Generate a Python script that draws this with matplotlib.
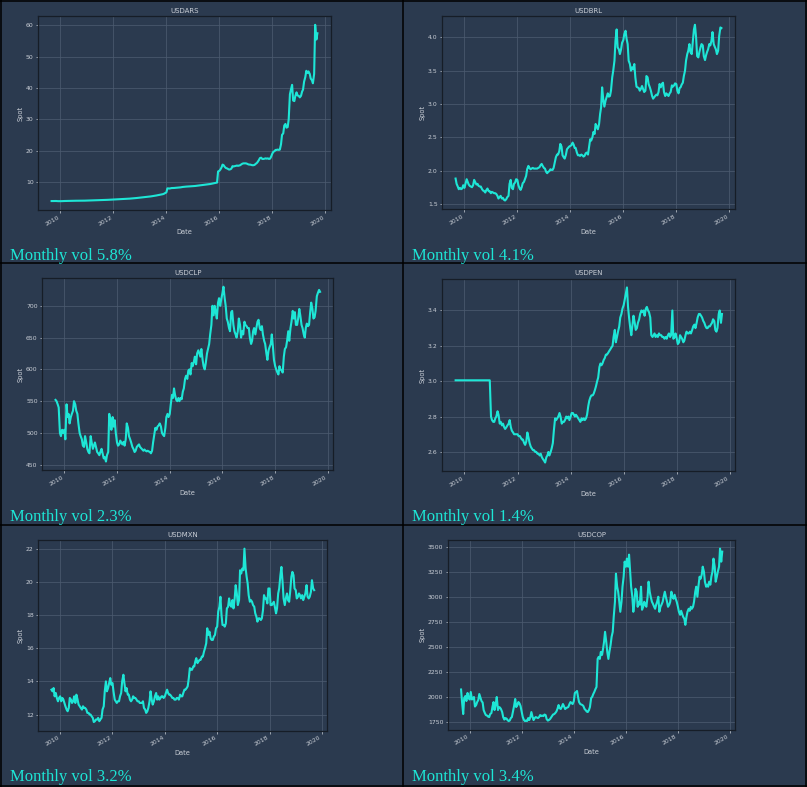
import matplotlib
matplotlib.use('Agg')
import matplotlib.pyplot as plt
import matplotlib.dates as mdates
from matplotlib.ticker import MultipleLocator
from matplotlib.lines import Line2D
import pandas as pd

# ---------------- data (semi-monthly readings, Sep 2009 - Sep 2019) ----------------
dates = pd.date_range('2009-09-01', '2019-09-15', freq='SMS')

usdars = [3.84, 3.85, 3.85, 3.86, 3.86, 3.82, 3.81, 3.80,
          3.80, 3.81, 3.84, 3.85, 3.86, 3.87, 3.87, 3.88, 3.89, 3.90, 3.91, 3.92, 3.93, 3.93, 3.94, 3.94, 3.95, 3.95, 3.96, 3.96, 3.96, 3.97, 3.97, 3.98,
          3.98, 4.00, 4.02, 4.03, 4.04, 4.05, 4.06, 4.07, 4.08, 4.09, 4.10, 4.11, 4.12, 4.14, 4.15, 4.17, 4.18, 4.20, 4.21, 4.23, 4.25, 4.27, 4.28, 4.30,
          4.32, 4.34, 4.35, 4.36, 4.37, 4.39, 4.41, 4.43, 4.44, 4.46, 4.48, 4.50, 4.53, 4.56, 4.59, 4.62, 4.65, 4.68, 4.72, 4.75, 4.78, 4.81, 4.85, 4.90,
          4.95, 4.98, 5.00, 5.03, 5.08, 5.12, 5.15, 5.19, 5.23, 5.27, 5.33, 5.38, 5.45, 5.50, 5.56, 5.62, 5.70, 5.77, 5.85, 5.92, 5.98, 6.05, 6.20, 6.40,
          6.60, 7.90, 7.88, 7.85, 7.92, 8.00, 8.00, 8.02, 8.05, 8.08, 8.13, 8.15, 8.18, 8.22, 8.30, 8.35, 8.40, 8.43, 8.46, 8.49, 8.52, 8.53, 8.55, 8.55,
          8.60, 8.63, 8.66, 8.70, 8.75, 8.78, 8.82, 8.85, 8.90, 8.93, 8.98, 9.02, 9.07, 9.12, 9.18, 9.24, 9.30, 9.38, 9.46, 9.52, 9.60, 9.66, 9.75, 13.30,
          13.5, 13.9, 14.6, 15.5, 15.3, 14.8, 14.4, 14.3, 14.1, 13.9, 14.0, 14.2, 15.0, 14.9, 15.0, 15.1, 15.2, 15.1, 15.2, 15.3, 15.6, 15.8, 15.9, 15.9,
          15.9, 15.8, 15.6, 15.5, 15.5, 15.4, 15.3, 15.3, 15.4, 15.7, 16.0, 16.4, 17.0, 17.6, 17.7, 17.3, 17.3, 17.4, 17.5, 17.4, 17.5, 17.3, 17.4, 18.0,
          19.0, 19.6, 19.8, 20.2, 20.2, 20.3, 20.2, 20.3, 22.0, 25.0, 25.5, 28.0, 28.5, 27.3, 27.5, 30.0, 38.0, 39.5, 41.0, 36.0, 35.8, 37.5, 38.6, 37.6,
          37.5, 37.0, 37.5, 38.8, 39.5, 42.0, 43.5, 45.5, 44.8, 45.3, 44.5, 43.0, 42.5, 41.5, 44.5, 60.2, 55.5, 57.5]

usdbrl = [1.88, 1.80, 1.76, 1.72, 1.74, 1.72, 1.73, 1.78,
          1.74, 1.80, 1.87, 1.83, 1.79, 1.77, 1.76, 1.75, 1.78, 1.86, 1.82, 1.79, 1.80, 1.77, 1.76, 1.76, 1.72, 1.70, 1.69, 1.67, 1.71, 1.73, 1.69, 1.69,
          1.66, 1.68, 1.67, 1.66, 1.66, 1.65, 1.62, 1.58, 1.60, 1.62, 1.58, 1.59, 1.56, 1.55, 1.57, 1.60, 1.62, 1.80, 1.86, 1.74, 1.72, 1.80, 1.82, 1.87,
          1.86, 1.78, 1.73, 1.71, 1.75, 1.81, 1.83, 1.87, 1.92, 2.02, 2.07, 2.04, 2.02, 2.03, 2.04, 2.03, 2.03, 2.03, 2.03, 2.04, 2.05, 2.08, 2.10, 2.07,
          2.04, 2.03, 1.98, 1.96, 1.98, 1.99, 2.02, 2.01, 2.01, 2.04, 2.13, 2.20, 2.24, 2.24, 2.29, 2.40, 2.36, 2.23, 2.20, 2.18, 2.24, 2.32, 2.34, 2.36,
          2.37, 2.38, 2.42, 2.39, 2.34, 2.34, 2.27, 2.23, 2.23, 2.22, 2.24, 2.23, 2.21, 2.22, 2.26, 2.27, 2.24, 2.35, 2.47, 2.45, 2.50, 2.58, 2.55, 2.70,
          2.66, 2.62, 2.70, 2.85, 2.95, 3.25, 3.05, 2.96, 3.05, 3.10, 3.16, 3.11, 3.12, 3.20, 3.40, 3.50, 3.65, 3.95, 4.12, 3.85, 3.82, 3.75, 3.82, 3.92,
          3.96, 4.05, 4.10, 3.98, 3.90, 3.65, 3.60, 3.50, 3.55, 3.52, 3.60, 3.40, 3.26, 3.25, 3.24, 3.20, 3.23, 3.27, 3.22, 3.18, 3.20, 3.42, 3.40, 3.30,
          3.25, 3.20, 3.12, 3.08, 3.10, 3.12, 3.14, 3.13, 3.18, 3.30, 3.25, 3.30, 3.32, 3.18, 3.12, 3.16, 3.14, 3.12, 3.16, 3.18, 3.28, 3.26, 3.28, 3.31,
          3.30, 3.20, 3.16, 3.24, 3.25, 3.29, 3.32, 3.42, 3.50, 3.65, 3.75, 3.80, 3.90, 3.78, 3.75, 3.92, 4.12, 4.19, 4.00, 3.72, 3.70, 3.78, 3.85, 3.90,
          3.88, 3.72, 3.66, 3.73, 3.78, 3.82, 3.90, 3.88, 3.95, 4.08, 3.90, 3.86, 3.82, 3.75, 3.80, 4.02, 4.15, 4.14]

usdclp = [552, 550, 545, 540, 500, 495, 505, 500,
          505, 490, 545, 525, 530, 515, 525, 530, 535, 550, 545, 535, 530, 515, 500, 495, 490, 480, 478, 495, 485, 475, 470, 468,
          495, 485, 475, 480, 485, 478, 470, 468, 465, 470, 475, 468, 460, 462, 455, 465, 470, 530, 520, 505, 525, 510, 520, 500,
          485, 480, 482, 488, 485, 482, 486, 480, 490, 515, 508, 495, 490, 485, 478, 475, 470, 472, 478, 480, 482, 478, 476, 474,
          472, 474, 472, 471, 472, 471, 470, 468, 472, 485, 498, 508, 505, 510, 512, 515, 510, 500, 497, 495, 508, 525, 530, 525,
          530, 545, 560, 555, 570, 560, 552, 550, 555, 550, 555, 553, 565, 570, 585, 590, 585, 598, 600, 592, 610, 605, 612, 620,
          608, 625, 630, 625, 620, 632, 615, 605, 600, 610, 625, 632, 640, 655, 670, 700, 685, 700, 690, 680, 705, 712, 700, 710,
          720, 730, 712, 700, 680, 675, 665, 660, 690, 692, 670, 660, 655, 650, 660, 680, 670, 650, 660, 655, 675, 670, 668, 665,
          665, 650, 640, 645, 660, 665, 655, 665, 675, 678, 665, 662, 668, 655, 645, 640, 625, 615, 630, 635, 640, 655, 635, 615,
          605, 600, 595, 592, 605, 600, 598, 595, 620, 632, 635, 645, 660, 645, 665, 675, 692, 680, 690, 670, 670, 680, 695, 685,
          670, 665, 655, 650, 665, 672, 668, 670, 690, 705, 695, 680, 682, 692, 715, 720, 725, 722]

usdpen = [3.005, 3.005, 3.005, 3.005, 3.005, 3.005, 3.005, 3.005,
          3.005, 3.005, 3.005, 3.005, 3.005, 3.005, 3.005, 3.005, 3.005, 3.005, 3.005, 3.005, 3.005, 3.005, 3.005, 3.005, 3.005, 3.005, 3.005, 3.005, 3.005, 3.005, 3.005, 3.005,
          2.80, 2.78, 2.77, 2.77, 2.79, 2.80, 2.83, 2.81, 2.76, 2.77, 2.75, 2.76, 2.74, 2.73, 2.74, 2.75, 2.76, 2.78, 2.74, 2.72, 2.71, 2.70, 2.70, 2.70,
          2.70, 2.69, 2.69, 2.68, 2.67, 2.67, 2.65, 2.64, 2.66, 2.71, 2.68, 2.65, 2.63, 2.62, 2.61, 2.61, 2.60, 2.60, 2.59, 2.59, 2.58, 2.59, 2.57, 2.56,
          2.55, 2.54, 2.57, 2.58, 2.60, 2.58, 2.60, 2.62, 2.65, 2.72, 2.79, 2.78, 2.79, 2.80, 2.82, 2.80, 2.76, 2.77, 2.77, 2.78, 2.80, 2.79, 2.80, 2.78,
          2.80, 2.82, 2.82, 2.81, 2.80, 2.81, 2.80, 2.79, 2.78, 2.77, 2.79, 2.78, 2.79, 2.78, 2.79, 2.81, 2.86, 2.89, 2.91, 2.92, 2.92, 2.93, 2.95, 2.97,
          3.00, 3.02, 3.08, 3.10, 3.09, 3.10, 3.12, 3.13, 3.15, 3.15, 3.16, 3.17, 3.18, 3.19, 3.20, 3.25, 3.29, 3.22, 3.25, 3.28, 3.31, 3.36, 3.38, 3.41,
          3.43, 3.46, 3.50, 3.53, 3.42, 3.36, 3.30, 3.26, 3.32, 3.37, 3.33, 3.29, 3.30, 3.33, 3.35, 3.38, 3.40, 3.39, 3.40, 3.37, 3.41, 3.42, 3.40, 3.39,
          3.36, 3.26, 3.25, 3.26, 3.27, 3.25, 3.26, 3.25, 3.27, 3.26, 3.26, 3.25, 3.25, 3.24, 3.25, 3.24, 3.26, 3.27, 3.25, 3.26, 3.40, 3.24, 3.25, 3.27,
          3.24, 3.21, 3.22, 3.26, 3.25, 3.24, 3.22, 3.23, 3.26, 3.28, 3.27, 3.27, 3.28, 3.27, 3.29, 3.31, 3.32, 3.30, 3.33, 3.36, 3.38, 3.38, 3.37, 3.36,
          3.34, 3.33, 3.31, 3.30, 3.30, 3.31, 3.31, 3.32, 3.33, 3.35, 3.34, 3.29, 3.28, 3.30, 3.38, 3.40, 3.33, 3.38]

usdmxn = [13.5, 13.4, 13.6, 13.1, 13.3, 13.0, 12.8, 13.0,
          13.1, 12.8, 13.0, 12.9, 12.7, 12.5, 12.3, 12.2, 12.4, 13.0, 12.9, 12.7, 12.8, 13.1, 12.7, 13.2, 12.9, 12.6, 12.5, 12.4, 12.3, 12.5, 12.4, 12.4,
          12.3, 12.1, 12.1, 12.0, 12.0, 11.9, 11.8, 11.55, 11.6, 11.7, 11.7, 11.8, 11.6, 11.7, 11.8, 12.3, 12.5, 13.4, 14.0, 13.4, 13.6, 13.9, 14.2, 13.8,
          13.9, 13.4, 12.9, 12.8, 12.7, 12.8, 12.8, 13.1, 13.3, 14.0, 14.4, 13.9, 13.4, 13.6, 13.2, 13.2, 12.9, 12.8, 12.9, 13.1, 13.0, 13.0, 12.9, 12.8,
          12.8, 12.7, 12.7, 12.7, 12.8, 12.4, 12.3, 12.1, 12.2, 12.4, 12.8, 13.4, 12.9, 12.6, 12.8, 13.1, 13.3, 12.9, 13.1, 12.9, 13.0, 13.1, 13.1, 13.0,
          13.1, 13.3, 13.5, 13.3, 13.2, 13.2, 13.1, 13.0, 13.0, 12.9, 12.9, 13.0, 13.0, 12.9, 13.2, 13.1, 13.1, 13.3, 13.5, 13.5, 13.6, 13.7, 14.2, 14.8,
          14.7, 14.7, 14.9, 14.9, 15.2, 15.4, 15.1, 15.2, 15.3, 15.3, 15.5, 15.5, 15.8, 16.0, 16.3, 17.2, 16.8, 17.0, 16.6, 16.5, 16.5, 16.7, 16.8, 17.2,
          17.3, 18.2, 18.5, 19.1, 18.0, 17.4, 17.4, 17.3, 17.5, 18.4, 18.5, 19.0, 18.6, 18.5, 18.9, 18.4, 19.0, 19.8, 19.3, 18.6, 18.9, 20.7, 20.5, 20.8,
          20.7, 22.0, 20.8, 20.3, 19.9, 19.2, 18.8, 18.9, 18.8, 18.6, 18.5, 18.1, 17.9, 17.6, 17.8, 17.8, 17.7, 17.8, 18.3, 19.2, 19.0, 19.0, 18.7, 19.6,
          19.6, 18.6, 18.6, 18.7, 18.8, 18.5, 18.1, 18.4, 19.3, 19.6, 20.4, 20.9, 20.0, 19.0, 18.6, 19.0, 19.3, 18.9, 18.8, 19.4, 20.3, 20.6, 20.4, 19.6,
          19.5, 19.0, 19.1, 19.3, 19.2, 19.0, 19.2, 18.9, 19.1, 19.3, 19.8, 19.1, 19.0, 19.1, 19.4, 20.1, 19.6, 19.5]

usdcop = [2075, 1950, 1830, 1990, 2010, 1960, 2040, 1990,
          1975, 2050, 1975, 1990, 2000, 1905, 1920, 1950, 1970, 2030, 1990, 1960, 1945, 1870, 1840, 1820, 1815, 1805, 1800, 1830, 1840, 1900, 1950, 1870,
          1930, 2000, 1870, 1900, 1895, 1880, 1850, 1800, 1775, 1790, 1785, 1770, 1760, 1765, 1790, 1800, 1860, 1910, 1980, 1900, 1920, 1950, 1935, 1910,
          1850, 1800, 1770, 1760, 1765, 1760, 1790, 1770, 1800, 1850, 1800, 1770, 1790, 1800, 1795, 1790, 1800, 1820, 1810, 1815, 1810, 1825, 1820, 1780,
          1765, 1770, 1780, 1795, 1810, 1825, 1830, 1840, 1855, 1880, 1920, 1890, 1880, 1900, 1930, 1910, 1880, 1890, 1895, 1900, 1930, 1950, 1940, 1930,
          1960, 2040, 2050, 2060, 2000, 1950, 1930, 1925, 1920, 1910, 1880, 1870, 1855, 1850, 1870, 1900, 1990, 2000, 2030, 2050, 2080, 2100, 2380, 2400,
          2380, 2450, 2420, 2480, 2550, 2650, 2550, 2450, 2380, 2450, 2520, 2600, 2650, 2800, 2950, 3230, 3100, 3050, 2950, 2850, 2950, 3100, 3200, 3350,
          3300, 3380, 3300, 3420, 3250, 3100, 3000, 2850, 2950, 3080, 3050, 2900, 2950, 2920, 3100, 2870, 2900, 2950, 2920, 2900, 3000, 3150, 3050, 3000,
          2950, 2930, 2900, 2880, 2920, 2950, 3000, 2850, 2900, 2920, 2950, 3000, 3050, 3000, 2950, 2900, 2920, 2950, 3050, 3000, 2980, 3020, 2980, 2950,
          2900, 2850, 2820, 2860, 2830, 2800, 2780, 2720, 2800, 2850, 2880, 2860, 2900, 2880, 2900, 2950, 3050, 3100, 3000, 3100, 3200, 3180, 3220, 3300,
          3250, 3150, 3100, 3120, 3100, 3150, 3120, 3200, 3250, 3380, 3300, 3150, 3200, 3250, 3300, 3480, 3350, 3450]

titles = ['USDARS', 'USDBRL', 'USDCLP', 'USDPEN', 'USDMXN', 'USDCOP']
series = [usdars, usdbrl, usdclp, usdpen, usdmxn, usdcop]
vols = ['5.8%', '4.1%', '2.3%', '1.4%', '3.2%', '3.4%']
ysteps = [10, 0.5, 50, 0.2, 2, 250]

# ---------------- style ----------------
BG = '#2b3a4f'
GRID = '#4b5b6f'
SPINE = '#161d27'
TXT = '#c9ced6'
CYAN = '#1ee6d6'
W, H = 807, 787

# axes boxes in pixels: left, top, right, bottom
boxes = [(38.3, 16, 330.7, 210), (442.3, 16, 734.7, 209.3),
         (42.3, 278, 333.3, 470.3), (442.3, 278.7, 735.3, 471.3),
         (38.3, 540, 327.3, 730.7), (448, 540, 735.3, 729.7)]
caps = [(10, 260), (412, 260), (10, 521), (412, 521), (10, 781), (412, 781)]

fig = plt.figure(figsize=(W / 100, H / 100), dpi=100, facecolor=BG)

for i in range(6):
    l, t, r, b = boxes[i]
    ax = fig.add_axes([l / W, 1 - b / H, (r - l) / W, (b - t) / H])
    ax.set_facecolor(BG)
    ax.plot(dates, series[i], color=CYAN, lw=1.5)
    ax.xaxis.set_major_locator(mdates.YearLocator(2))
    ax.xaxis.set_major_formatter(mdates.DateFormatter('%Y'))
    ax.yaxis.set_major_locator(MultipleLocator(ysteps[i]))
    ax.grid(True, color=GRID, lw=0.6, alpha=0.9)
    ax.set_axisbelow(True)
    for s in ax.spines.values():
        s.set_color(SPINE)
        s.set_linewidth(0.9)
    ax.tick_params(labelsize=4.4, colors=TXT, length=1.8, width=0.5, pad=1.5)
    for lab in ax.get_xticklabels():
        lab.set_rotation(30)
        lab.set_ha('right')
    ax.set_title(titles[i], fontsize=5, color=TXT, pad=2.5)
    ax.set_xlabel('Date', fontsize=4.8, color=TXT, labelpad=2)
    ax.set_ylabel('Spot', fontsize=4.8, color=TXT, labelpad=2)
    cx, cy = caps[i]
    fig.text(cx / W, 1 - cy / H, 'Monthly vol ' + vols[i], family='Liberation Serif',
             fontsize=12, color=CYAN, va='baseline', ha='left')

# cell borders
def hline(y, x0=0, x1=W):
    fig.add_artist(Line2D([x0 / W, x1 / W], [1 - y / H, 1 - y / H], color='black', lw=1.1,
                          transform=fig.transFigure))

def vline(x, y0=0, y1=H):
    fig.add_artist(Line2D([x / W, x / W], [1 - y0 / H, 1 - y1 / H], color='black', lw=1.1,
                          transform=fig.transFigure))

for y in (0.8, 262.5, 524.5, 786.2):
    hline(y)
for x in (0.8, 402.5, 806.2):
    vline(x)

fig.savefig('out.png', dpi=100, facecolor=BG)
